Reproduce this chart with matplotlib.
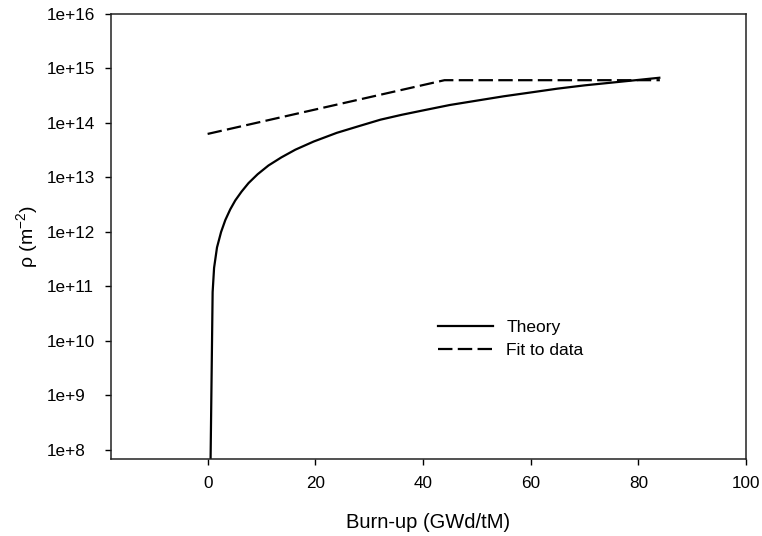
import matplotlib
matplotlib.use("Agg")
import matplotlib.pyplot as plt

plt.rcParams["font.family"] = ["Liberation Sans", "DejaVu Sans"]
plt.rcParams["mathtext.default"] = "regular"

# Theory curve
teoria_x = [0.55, 0.93, 1.2, 1.74, 2.5, 3.29, 4.2, 5.14, 6.3, 7.6, 9.3, 11.3,
            13.7, 16.3, 19.7, 24, 28, 32.1, 36, 40, 45, 50.6, 55, 60, 65, 70,
            75, 80, 83.9]
teoria_y = [7e7, 7.9e10, 2.2e11, 5.2e11, 1.0e12, 1.66e12, 2.6e12, 3.8e12,
            5.5e12, 7.9e12, 1.15e13, 1.66e13, 2.34e13, 3.24e13, 4.57e13,
            6.6e13, 8.7e13, 1.15e14, 1.41e14, 1.70e14, 2.14e14, 2.63e14,
            3.09e14, 3.63e14, 4.27e14, 4.9e14, 5.5e14, 6.17e14, 6.76e14]

# Fit to data
ajuste_x = [0.0, 44.0, 84.0]
ajuste_y = [6.3e13, 6.1e14, 6.1e14]

yticks = [1e8, 1e9, 1e10, 1e11, 1e12, 1e13, 1e14, 1e15, 1e16]
ytick_labels = ["1e+8", "1e+9", "1e+10", "1e+11", "1e+12", "1e+13",
                "1e+14", "1e+15", "1e+16"]
xticks = [0, 20, 40, 60, 80, 100]

fig = plt.figure(figsize=(7.62, 5.36), dpi=100)
ax = fig.add_axes([0.1453, 0.1442, 0.8337, 0.8297])

ax.plot(teoria_x, teoria_y, color="k", lw=1.6, label="Theory")
ax.plot(ajuste_x, ajuste_y, color="k", lw=1.6, dashes=(6.5, 2.4),
        label="Fit to data")

ax.set_yscale("log")
ax.set_xlim(-18, 100)
ax.set_ylim(10 ** 7.84, 1e16)
ax.set_xticks(xticks)
ax.set_yticks(yticks)
ax.set_yticklabels(ytick_labels)
ax.minorticks_off()

for s in ax.spines.values():
    s.set_linewidth(1.1)
    s.set_color("#222222")
ax.tick_params(direction="out", length=4.5, width=1.0, labelsize=12.3,
               top=False, right=False)
ax.tick_params(axis="x", pad=8.0)
ax.tick_params(axis="y", pad=41.5)
for lab in ax.get_yticklabels():
    lab.set_horizontalalignment("left")

ax.set_xlabel("Burn-up (GWd/tM)", fontsize=14.5)
ax.xaxis.set_label_coords(0.5, -0.122)
ax.set_ylabel("ρ (m$^{-2}$)", fontsize=14)
ax.yaxis.set_label_coords(-0.112, 0.5)

ax.legend(loc="upper left", bbox_to_anchor=(438 / 762, 1 - 320 / 536),
          bbox_transform=fig.transFigure, frameon=False, fontsize=12.5,
          handlelength=3.15, handletextpad=0.79, labelspacing=0.42,
          borderpad=0, borderaxespad=0)

fig.savefig("out.png", dpi=100)
